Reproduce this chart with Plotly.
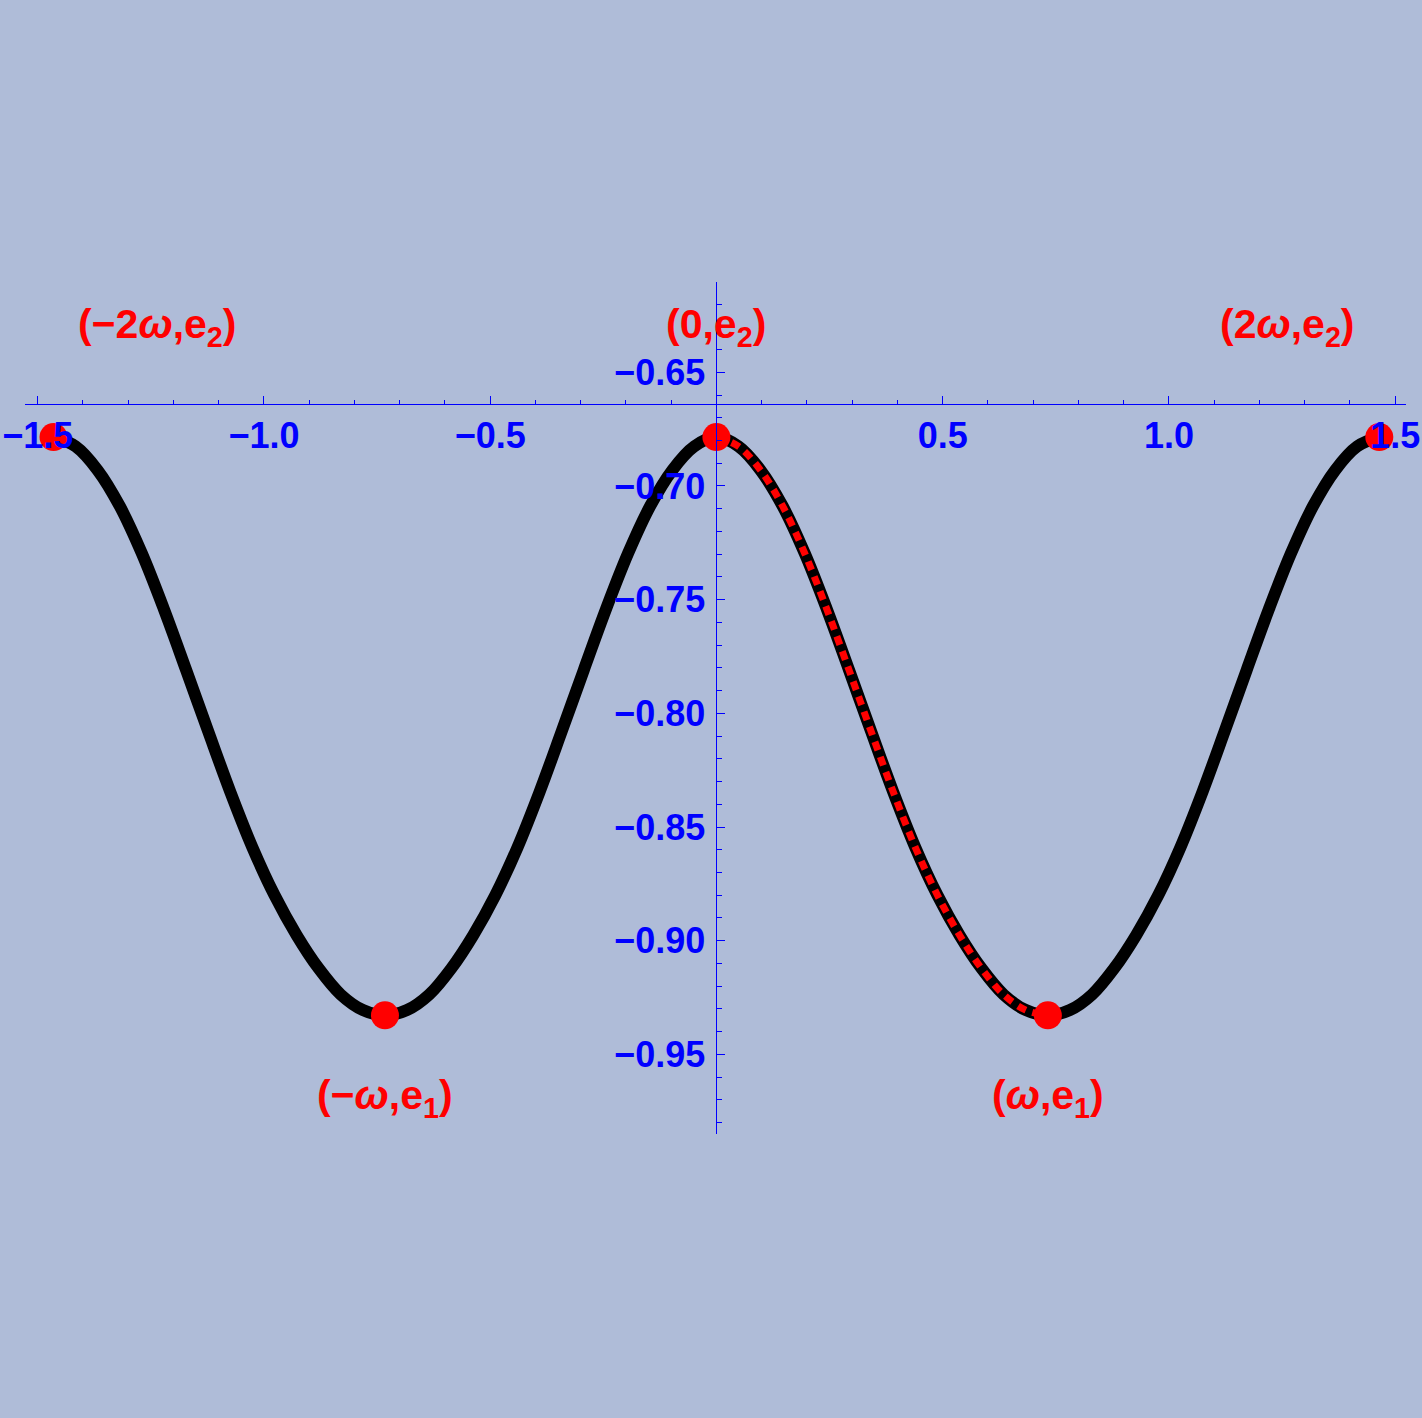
import plotly.graph_objects as go

# full curve from -2ω to 2ω
curve_x = [-1.4650, -1.4162, -1.3673, -1.3185, -1.2697, -1.2208, -1.1720, -1.1232, -1.0743, -1.0255,
           -0.9767, -0.9278, -0.8790, -0.8302, -0.7813, -0.7325,
           -0.6837, -0.6348, -0.5860, -0.5372, -0.4883, -0.4395, -0.3907, -0.3418, -0.2930, -0.2442,
           -0.1953, -0.1465, -0.0977, -0.0488, 0.0,
           0.0488, 0.0977, 0.1465, 0.1953, 0.2442, 0.2930, 0.3418, 0.3907, 0.4395, 0.4883,
           0.5372, 0.5860, 0.6348, 0.6837, 0.7325,
           0.7813, 0.8302, 0.8790, 0.9278, 0.9767, 1.0255, 1.0743, 1.1232, 1.1720, 1.2208,
           1.2697, 1.3185, 1.3673, 1.4162, 1.4650]
curve_y = [-0.6785, -0.6826, -0.6931, -0.7089, -0.7297, -0.7543, -0.7809, -0.8079, -0.8345, -0.8589,
           -0.8799, -0.8975, -0.9122, -0.9237, -0.9305, -0.9328,
           -0.9305, -0.9237, -0.9122, -0.8975, -0.8799, -0.8589, -0.8345, -0.8079, -0.7809, -0.7543,
           -0.7297, -0.7089, -0.6931, -0.6826, -0.6785,
           -0.6826, -0.6931, -0.7089, -0.7297, -0.7543, -0.7809, -0.8079, -0.8345, -0.8589, -0.8799,
           -0.8975, -0.9122, -0.9237, -0.9305, -0.9328,
           -0.9305, -0.9237, -0.9122, -0.8975, -0.8799, -0.8589, -0.8345, -0.8079, -0.7809, -0.7543,
           -0.7297, -0.7089, -0.6931, -0.6826, -0.6785]

# dashed red segment from 0 to ω
dash_x = [0.0, 0.0488, 0.0977, 0.1465, 0.1953, 0.2442, 0.2930, 0.3418, 0.3907, 0.4395, 0.4883,
          0.5372, 0.5860, 0.6348, 0.6837, 0.7325]
dash_y = [-0.6785, -0.6826, -0.6931, -0.7089, -0.7297, -0.7543, -0.7809, -0.8079, -0.8345, -0.8589,
          -0.8799, -0.8975, -0.9122, -0.9237, -0.9305, -0.9328]

# special points
pts_x = [-1.465, -0.7325, 0.0, 0.7325, 1.465]
pts_y = [-0.6785, -0.9328, -0.6785, -0.9328, -0.6785]

# labels
label_text = ["(−2<i>ω</i>,e<sub>2</sub>)", "(0,e<sub>2</sub>)", "(2<i>ω</i>,e<sub>2</sub>)",
              "(−<i>ω</i>,e<sub>1</sub>)", "(<i>ω</i>,e<sub>1</sub>)"]
label_x = [-1.237, 0.0, 1.262, -0.733, 0.733]
label_y = [-0.630, -0.630, -0.630, -0.969, -0.969]

x_ticks = [-1.5, -1.0, -0.5, 0.5, 1.0, 1.5]
x_ticktext = ["−1.5", "−1.0", "−0.5", "0.5", "1.0", "1.5"]
y_ticks = [-0.65, -0.70, -0.75, -0.80, -0.85, -0.90, -0.95]
y_ticktext = ["−0.65", "−0.70", "−0.75", "−0.80", "−0.85", "−0.90", "−0.95"]

BG = "#AFBCD8"
BLUE = "#0000FF"
RED = "#FF0000"
FONT = "Liberation Sans"

x_range = [-1.528, 1.524]
y_range = [-0.985, -0.6103]
x_cross_y = -0.664

fig = go.Figure()
fig.add_trace(go.Scatter(x=curve_x, y=curve_y, mode="lines",
                         line=dict(color="black", width=12, shape="spline", smoothing=1.0),
                         hoverinfo="skip", showlegend=False))
fig.add_trace(go.Scatter(x=dash_x, y=dash_y, mode="lines",
                         line=dict(color=RED, width=7, shape="spline", smoothing=1.0, dash="9px,7px"),
                         hoverinfo="skip", showlegend=False))
fig.add_trace(go.Scatter(x=pts_x, y=pts_y, mode="markers",
                         marker=dict(color=RED, size=28, line=dict(width=0)),
                         cliponaxis=False, hoverinfo="skip", showlegend=False))

for t, lx, ly in zip(label_text, label_x, label_y):
    fig.add_annotation(x=lx, y=ly, xref="x", yref="y", text=t, showarrow=False,
                       font=dict(family=FONT, size=41, color=RED, weight="bold"),
                       xanchor="center", yanchor="middle")

ypos = (x_cross_y - y_range[0]) / (y_range[1] - y_range[0])
xpos = (0 - x_range[0]) / (x_range[1] - x_range[0])

fig.update_layout(
    width=1422, height=1418,
    paper_bgcolor=BG, plot_bgcolor=BG,
    margin=dict(l=25, r=16, t=282, b=284, autoexpand=False),
    xaxis=dict(range=x_range, anchor="free", position=ypos, side="bottom", automargin=False,
               showgrid=False, zeroline=False, showline=True, linecolor=BLUE, linewidth=1,
               tickmode="array", tickvals=x_ticks, ticktext=x_ticktext,
               ticks="inside", ticklen=8, tickcolor=BLUE, tickwidth=1,
               ticklabelstandoff=0,
               tickfont=dict(family=FONT, size=36, color=BLUE, weight="bold"),
               minor=dict(tickmode="linear", tick0=0, dtick=0.1, ticks="inside",
                          ticklen=4, tickcolor=BLUE, tickwidth=1, showgrid=False)),
    yaxis=dict(range=y_range, anchor="free", position=xpos, side="left", automargin=False,
               showgrid=False, zeroline=False, showline=True, linecolor=BLUE, linewidth=1,
               tickmode="array", tickvals=y_ticks, ticktext=y_ticktext,
               ticks="inside", ticklen=8, tickcolor=BLUE, tickwidth=1,
               ticklabelstandoff=4,
               tickfont=dict(family=FONT, size=36, color=BLUE, weight="bold"),
               minor=dict(tickmode="linear", tick0=0, dtick=0.01, ticks="inside",
                          ticklen=5, tickcolor=BLUE, tickwidth=1, showgrid=False)),
)

fig.write_html("out.html", config={"displayModeBar": False},
               post_script="document.body.style.margin='0';document.body.style.overflow='hidden';")
